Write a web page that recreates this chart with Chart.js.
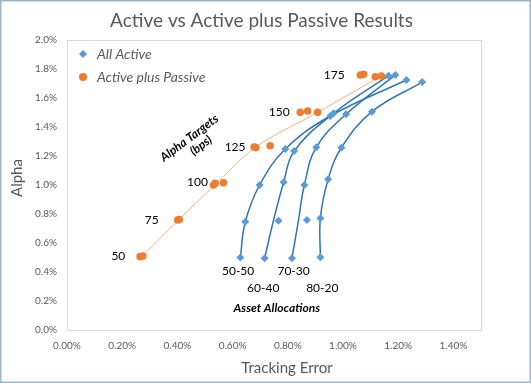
<!DOCTYPE html>
<html><head><meta charset="utf-8">
<script src="https://cdn.jsdelivr.net/npm/chart.js@4/dist/chart.umd.min.js"></script>
<style>html,body{margin:0;padding:0;background:#fff}canvas{display:block}</style>
</head><body>
<canvas id="c" width="531" height="383"></canvas>
<script>
// ---- data ----
const alphaTargets = ['50', '75', '100', '125', '150', '175'];
const allocations = ['50-50', '60-40', '70-30', '80-20'];

// All Active (diamonds), tracking error % and alpha % per allocation
const te5050 = [0.628, 0.646, 0.698, 0.791, 0.954, 1.230];
const al5050 = [0.500, 0.747, 1.000, 1.248, 1.476, 1.724];
const te6040 = [0.716, 0.766, 0.785, 0.823, 0.966, 1.165];
const al6040 = [0.494, 0.754, 1.019, 1.234, 1.494, 1.754];
const te7030 = [0.815, 0.869, 0.860, 0.903, 1.011, 1.190];
const al7030 = [0.494, 0.759, 1.000, 1.260, 1.488, 1.759];
const te8020 = [0.918, 0.918, 0.946, 0.994, 1.105, 1.287];
const al8020 = [0.501, 0.770, 1.039, 1.257, 1.506, 1.710];

// smoothed allocation curves (where they leave the diamonds)
const curveTe5050 = [0.628, 0.646, 0.698, 0.791, 0.954, 1.230];
const curveTe6040 = [0.716, 0.748, 0.785, 0.823, 0.966, 1.165];
const curveTe7030 = [0.815, 0.839, 0.860, 0.903, 1.011, 1.190];
const curveTe8020 = [0.918, 0.918, 0.946, 0.994, 1.105, 1.287];

// Active plus Passive (circles)
const apTE    = [0.265, 0.275, 0.401, 0.407, 0.531, 0.537, 0.567, 0.678, 0.684, 0.736, 0.845, 0.872, 0.908, 1.063, 1.075, 1.117, 1.139];
const apAlpha = [0.506, 0.510, 0.759, 0.762, 1.000, 1.012, 1.016, 1.262, 1.258, 1.271, 1.501, 1.510, 1.501, 1.759, 1.763, 1.747, 1.752];

// alpha-target trend line
const trendTE    = [0.271, 0.404, 0.535, 0.682, 0.907, 1.139];
const trendAlpha = [0.506, 0.759, 0.998, 1.260, 1.500, 1.752];

// ---- helpers ----
const zip = (xs, ys) => xs.map((x, i) => ({x, y: ys[i]}));
const BLUE = '#5b9bd5', BLUE_LINE = '#2e75b6', ORANGE = '#ed7d31', ORANGE_LINE = '#f4b183';
const GREY = '#595959';
const FONT = 'Lato, "Open Sans", sans-serif';

const curveSet = (label, xs, ys) => ({
  label, data: zip(xs, ys), showLine: true, tension: 0.4,
  borderColor: BLUE_LINE, borderWidth: 1.5, pointRadius: 0, pointHoverRadius: 0, fill: false
});

// annotation layout (plot units)
const targetLabelPos = [[0.186, 0.510], [0.307, 0.759], [0.473, 1.021], [0.609, 1.260], [0.769, 1.506], [0.968, 1.759]];
const allocLabelPos = [[0.620, 0.403], [0.711, 0.292], [0.821, 0.407], [0.925, 0.292]];

const deco = {
  id: 'deco',
  beforeDraw(chart) {
    const {ctx, chartArea: a} = chart;
    ctx.save();
    ctx.fillStyle = '#fff';
    ctx.fillRect(0, 0, chart.width, chart.height);
    ctx.strokeStyle = '#d9d9d9';
    ctx.lineWidth = 1;
    ctx.strokeRect(a.left + 0.5, a.top + 0.5, a.right - a.left, a.bottom - a.top);
    ctx.restore();
  },
  afterDraw(chart) {
    const {ctx} = chart;
    const xs = chart.scales.x, ys = chart.scales.y;
    const px = v => xs.getPixelForValue(v), py = v => ys.getPixelForValue(v);
    ctx.save();
    // title
    ctx.fillStyle = GREY;
    ctx.textAlign = 'center'; ctx.textBaseline = 'middle';
    ctx.font = '19px ' + FONT;
    ctx.fillText('Active vs Active plus Passive Results', 261.5, 21);
    // axis titles
    ctx.font = '15px ' + FONT;
    ctx.fillText('Tracking Error', 287, 368);
    ctx.save();
    ctx.translate(17, 178); ctx.rotate(-Math.PI / 2);
    ctx.fillText('Alpha', 0, 0);
    ctx.restore();
    // legend
    const ds0 = chart.data.datasets[0], ds1 = chart.data.datasets[1];
    ctx.fillStyle = BLUE;
    ctx.beginPath();
    ctx.moveTo(83, 50); ctx.lineTo(87, 54); ctx.lineTo(83, 58); ctx.lineTo(79, 54); ctx.closePath();
    ctx.fill();
    ctx.fillStyle = ORANGE;
    ctx.beginPath(); ctx.arc(83, 77, 4, 0, Math.PI * 2); ctx.fill();
    ctx.fillStyle = GREY;
    ctx.textAlign = 'left';
    ctx.font = 'italic 14px ' + FONT;
    ctx.fillText(ds0.label, 97, 54);
    ctx.fillText(ds1.label, 97, 77);
    // alpha target labels
    ctx.fillStyle = '#000';
    ctx.textAlign = 'center';
    ctx.font = '12px ' + FONT;
    alphaTargets.forEach((t, i) => ctx.fillText(t, px(targetLabelPos[i][0]), py(targetLabelPos[i][1])));
    allocations.forEach((t, i) => ctx.fillText(t, px(allocLabelPos[i][0]), py(allocLabelPos[i][1])));
    // section captions
    ctx.font = 'italic bold 12px ' + FONT;
    ctx.fillText('Asset Allocations', px(0.760), py(0.150));
    ctx.save();
    ctx.translate(px(0.443), py(1.324));
    ctx.rotate(-37 * Math.PI / 180);
    ctx.fillText('Alpha Targets', 0, 0);
    ctx.fillText('(bps)', 4.8, 13);
    ctx.restore();
    // outer border
    ctx.strokeStyle = '#9fb5cb';
    ctx.lineWidth = 1.5;
    ctx.strokeRect(0.75, 0.75, chart.width - 1.5, chart.height - 1.5);
    ctx.restore();
  }
};

new Chart(document.getElementById('c'), {
  type: 'scatter',
  data: {
    datasets: [
      {label: 'All Active',
       data: [...zip(te5050, al5050), ...zip(te6040, al6040), ...zip(te7030, al7030), ...zip(te8020, al8020)],
       pointStyle: 'rectRot', pointRadius: 4, pointHoverRadius: 4,
       backgroundColor: BLUE, borderColor: BLUE, borderWidth: 0},
      {label: 'Active plus Passive', data: zip(apTE, apAlpha),
       pointStyle: 'circle', pointRadius: 3.8, pointHoverRadius: 3.8,
       backgroundColor: ORANGE, borderColor: ORANGE, borderWidth: 0},
      curveSet(allocations[0], curveTe5050, al5050),
      curveSet(allocations[1], curveTe6040, al6040),
      curveSet(allocations[2], curveTe7030, al7030),
      curveSet(allocations[3], curveTe8020, al8020),
      {label: 'Alpha Targets', data: zip(trendTE, trendAlpha), showLine: true, tension: 0.3,
       borderColor: ORANGE_LINE, borderWidth: 1, pointRadius: 0, pointHoverRadius: 0, fill: false}
    ]
  },
  options: {
    responsive: false, animation: false, devicePixelRatio: 1,
    layout: {padding: {left: 0, right: 50, top: 40, bottom: 0}},
    plugins: {legend: {display: false}, tooltip: {enabled: false}, title: {display: false}},
    scales: {
      x: {
        type: 'linear', min: 0, max: 1.5,
        grid: {display: false, drawTicks: false}, border: {display: false},
        ticks: {stepSize: 0.2, includeBounds: false, padding: 10, color: GREY,
                font: {family: FONT, size: 10}, callback: v => v.toFixed(2) + '%'},
        afterFit: s => { s.height = 53; }
      },
      y: {
        type: 'linear', min: 0, max: 2.0,
        grid: {display: false, drawTicks: false}, border: {display: false},
        ticks: {stepSize: 0.2, padding: 10, color: GREY,
                font: {family: FONT, size: 10}, callback: v => v.toFixed(1) + '%'},
        afterFit: s => { s.width = 67; }
      }
    }
  },
  plugins: [deco]
});
</script>
</body></html>
